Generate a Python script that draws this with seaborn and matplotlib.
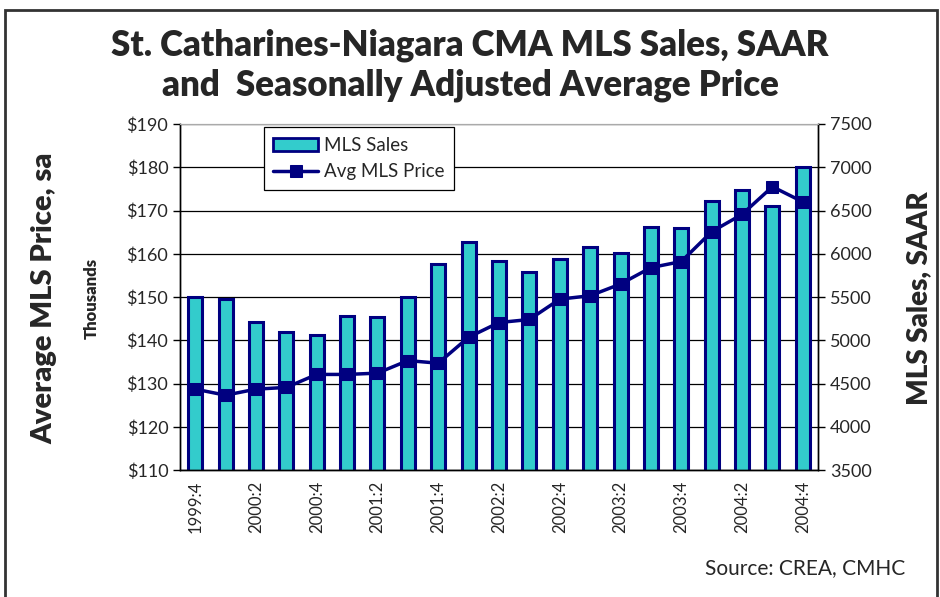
import numpy as np
import pandas as pd
import matplotlib.pyplot as plt
import matplotlib.patches as mpatches
import seaborn as sns

quarters = ["1999:4", "2000:1", "2000:2", "2000:3", "2000:4", "2001:1", "2001:2",
            "2001:3", "2001:4", "2002:1", "2002:2", "2002:3", "2002:4", "2003:1",
            "2003:2", "2003:3", "2003:4", "2004:1", "2004:2", "2004:3", "2004:4"]
mls_sales = [5500, 5480, 5210, 5095, 5060, 5280, 5270, 5500, 5880, 6140, 5920,
             5790, 5940, 6075, 6005, 6310, 6300, 6610, 6735, 6550, 7000]
avg_price = [128.7, 127.3, 128.7, 129.1, 132.1, 132.1, 132.4, 135.3, 134.7, 140.7,
             144.1, 144.8, 149.5, 150.3, 153.0, 156.8, 158.2, 165.1, 169.1, 175.5, 172.0]

df = pd.DataFrame({"quarter": quarters, "sales": mls_sales, "price": avg_price})
df["pos"] = np.arange(len(df))

sns.set_style("white")
plt.rcParams["font.family"] = ["Lato", "DejaVu Sans"]

navy = "#000080"
cyan = "#33CCCC"

fig = plt.figure(figsize=(9.4, 5.97), dpi=100)
ax = fig.add_axes([0.1915, 0.2127, 0.6787, 0.5796])
ax2 = ax.twinx()

# bars on the right (sales) axis, grid drawn there so it sits behind bars
ax2.set_ylim(3500, 7500)
ax2.set_yticks(np.arange(3500, 7501, 500))
ax2.yaxis.grid(True, color="black", linewidth=0.9)
ax2.set_axisbelow(True)
sns.barplot(data=df, x="pos", y="sales", ax=ax2, color=cyan, width=0.46,
            edgecolor=navy, linewidth=2.2, saturation=1, native_scale=True,
            label="MLS Sales")

# price line on the left axis, drawn above the bars
ax.set_zorder(ax2.get_zorder() + 1)
ax.patch.set_visible(False)
sns.lineplot(data=df, x="pos", y="price", ax=ax, color=navy, linewidth=2.5,
             marker="s", markersize=8, markeredgecolor=navy, label="Avg MLS Price")
ax.set_ylim(110, 190)
ax.set_yticks(np.arange(110, 191, 10))
ax.set_yticklabels([f"${v}" for v in range(110, 191, 10)])
ax.set_xlim(-0.5, len(df) - 0.5)

ax.set_xticks(df["pos"][::2])
ax.set_xticklabels(df["quarter"][::2], rotation=90)
ax.set_xticks(np.arange(-0.5, len(df)), minor=True)
ax.tick_params(axis="x", which="major", length=0, labelsize=12, pad=8)
ax.tick_params(axis="x", which="minor", length=5, width=1, color="black", direction="out")
ax.tick_params(axis="y", length=5, width=1, color="black", direction="out", labelsize=13, left=True)
ax2.tick_params(axis="y", length=5, width=1, color="black", direction="out", labelsize=13, right=True)
ax2.tick_params(axis="x", length=0, labelbottom=False)
ax2.set_xlabel("")

for a in (ax, ax2):
    for side in ("left", "right", "bottom"):
        a.spines[side].set_color("black")
        a.spines[side].set_linewidth(1)
    a.spines["top"].set_color("#aaaaaa")
ax.set_xlabel("")
ax.set_ylabel("")
ax2.set_ylabel("")

# legend combining both series
h1, l1 = ax.get_legend_handles_labels()
if ax.get_legend():
    ax.get_legend().remove()
if ax2.get_legend():
    ax2.get_legend().remove()
bar_handle = mpatches.Patch(facecolor=cyan, edgecolor=navy, linewidth=2)
leg = ax.legend([bar_handle, h1[0]], ["MLS Sales", "Avg MLS Price"],
                loc="upper left", bbox_to_anchor=(0.117, 1.017), fontsize=13.5,
                frameon=True, fancybox=False, edgecolor="black", framealpha=1,
                borderpad=0.5, handlelength=2.4, labelspacing=0.5, handletextpad=0.3)
leg.get_frame().set_linewidth(0.9)

fig.text(0.5, 0.925, "St. Catharines-Niagara CMA MLS Sales, SAAR", ha="center",
         va="center", fontsize=25, fontweight="heavy")
fig.text(0.5, 0.858, "and  Seasonally Adjusted Average Price", ha="center",
         va="center", fontsize=25, fontweight="heavy")
fig.text(0.047, 0.5, "Average MLS Price, sa", rotation=90, ha="center", va="center",
         fontsize=21, fontweight="heavy")
fig.text(0.098, 0.5, "Thousands", rotation=90, ha="center", va="center",
         fontsize=12, fontweight="heavy")
fig.text(0.978, 0.5, "MLS Sales, SAAR", rotation=90, ha="center", va="center",
         fontsize=20, fontweight="heavy")
fig.text(0.963, 0.048, "Source: CREA, CMHC", ha="right", va="center", fontsize=15)

fig.patches.append(mpatches.Rectangle((0.005, -0.01), 0.992, 0.993, transform=fig.transFigure,
                                      fill=False, edgecolor="#333333", linewidth=2))

fig.savefig("out.png", dpi=100)
